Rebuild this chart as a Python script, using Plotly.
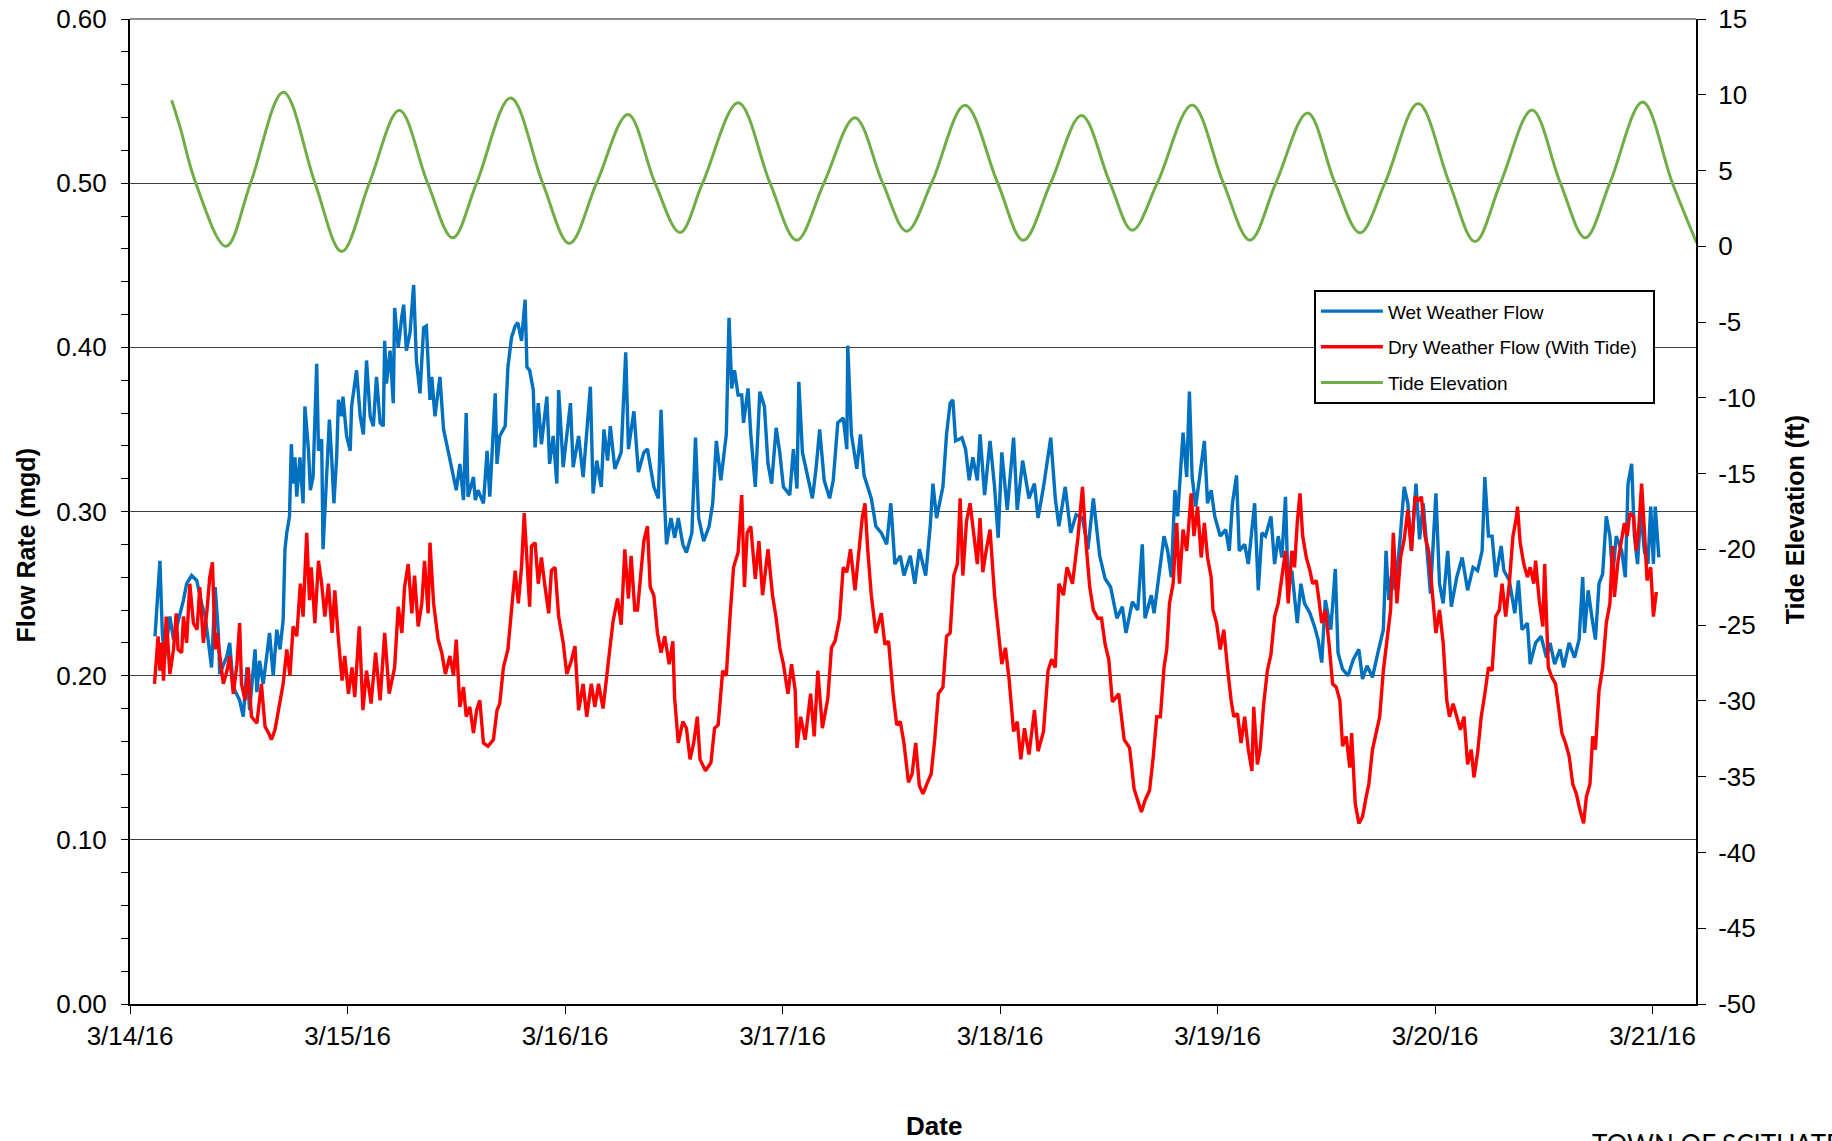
import pandas as pd
import plotly.graph_objects as go

START = pd.Timestamp("2016-03-14 00:00")

# (hours after 3/14/16 00:00, flow in mgd)
wet_weather_flow = [
    (2.76,0.224),(2.87,0.232),(3.3,0.270),(3.57,0.226),(3.8,0.21),(4.4,0.236),(4.8,0.222),(5.9,0.246),(6.25,0.256),
    (6.8,0.261),(7.36,0.258),(7.9,0.244),(8.3,0.236),(9.0,0.205),(9.4,0.254),(9.75,0.226),(9.9,0.201),(10.7,0.212),
    (11.0,0.22),(11.4,0.193),(12.1,0.185),(12.5,0.175),(12.9,0.205),(13.2,0.179),(13.8,0.216),(14.0,0.19),(14.3,0.209),
    (14.7,0.195),(15.4,0.226),(15.8,0.2),(16.2,0.228),(16.55,0.216),(16.9,0.234),(17.1,0.277),(17.3,0.287),(17.6,0.297),
    (17.8,0.341),(18.0,0.317),(18.2,0.333),(18.4,0.309),(18.75,0.333),(19.1,0.305),(19.3,0.364),(19.7,0.337),(19.9,0.313),
    (20.2,0.321),(20.6,0.39),(20.8,0.337),(21.15,0.344),(21.3,0.277),(21.7,0.317),(22.0,0.356),(22.25,0.333),(22.5,0.305),
    (22.8,0.333),(23.0,0.368),(23.35,0.358),(23.5,0.37),(23.9,0.346),(24.3,0.337),(24.45,0.364),(25.0,0.386),(25.4,0.358),
    (25.75,0.347),(26.1,0.392),(26.5,0.358),(26.85,0.352),(27.2,0.382),(27.6,0.354),(27.95,0.352),(28.1,0.404),(28.3,0.378),
    (28.7,0.398),(29.05,0.366),(29.2,0.424),(29.6,0.4),(30.0,0.419),(30.2,0.426),(30.5,0.398),(30.9,0.409),(31.3,0.438),
    (31.6,0.392),(32.0,0.372),(32.4,0.412),(32.7,0.413),(33.1,0.368),(33.3,0.382),(33.65,0.358),(34.2,0.382),(34.6,0.35),
    (35.1,0.337),(35.5,0.327),(36.0,0.313),(36.4,0.329),(36.8,0.307),(37.1,0.36),(37.3,0.309),(37.9,0.321),(38.1,0.307),
    (38.4,0.313),(39.0,0.305),(39.4,0.337),(39.7,0.309),(40.3,0.372),(40.5,0.329),(40.8,0.346),(41.4,0.352),(41.7,0.388),
    (42.1,0.406),(42.5,0.413),(42.8,0.415),(43.2,0.404),(43.6,0.429),(43.8,0.388),(44.1,0.386),(44.5,0.374),(44.7,0.339),
    (45.05,0.366),(45.4,0.341),(46.0,0.37),(46.3,0.329),(46.7,0.346),(47.1,0.317),(47.3,0.374),(47.8,0.327),(48.6,0.366),
    (48.9,0.327),(49.5,0.346),(50.0,0.321),(50.8,0.376),(51.1,0.311),(51.5,0.331),(52.0,0.315),(52.3,0.35),(52.7,0.331),
    (53.0,0.352),(53.5,0.326),(54.2,0.336),(54.7,0.397),(55.0,0.338),(55.6,0.361),(56.1,0.324),(56.7,0.336),(57.1,0.338),
    (57.8,0.315),(58.3,0.308),(58.6,0.362),(58.95,0.31),(59.2,0.28),(59.7,0.296),(60.1,0.284),(60.5,0.296),(61.0,0.28),
    (61.4,0.275),(62.0,0.287),(62.4,0.345),(62.75,0.296),(63.3,0.282),(63.9,0.291),(64.3,0.305),(64.7,0.343),(65.2,0.319),
    (65.8,0.347),(66.1,0.418),(66.4,0.375),(66.7,0.386),(67.1,0.371),(67.5,0.371),(67.7,0.354),(68.2,0.375),(68.5,0.347),
    (69.0,0.315),(69.5,0.373),(70.0,0.364),(70.4,0.329),(70.8,0.317),(71.3,0.351),(71.7,0.336),(72.1,0.315),(72.8,0.31),
    (73.2,0.338),(73.6,0.314),(73.8,0.379),(74.2,0.336),(74.9,0.319),(75.3,0.308),(75.7,0.326),(76.1,0.35),(76.6,0.319),
    (77.2,0.308),(77.6,0.319),(78.1,0.354),(78.7,0.357),(79.1,0.338),(79.2,0.401),(79.6,0.347),(80.2,0.326),(80.6,0.347),
    (81.0,0.322),(81.4,0.315),(81.8,0.308),(82.3,0.291),(82.9,0.287),(83.5,0.28),(83.95,0.305),(84.4,0.268),(85.0,0.273),
    (85.4,0.261),(86.1,0.273),(86.6,0.256),(87.1,0.277),(87.8,0.261),(88.3,0.291),(88.6,0.317),(89.0,0.296),(89.7,0.315),
    (90.1,0.347),(90.5,0.366),(90.8,0.368),(91.1,0.343),(91.8,0.345),(92.2,0.338),(92.6,0.319),(93.0,0.333),(93.5,0.319),
    (93.8,0.347),(94.3,0.31),(94.9,0.343),(95.4,0.315),(95.8,0.284),(96.2,0.336),(96.8,0.301),(97.5,0.345),(97.9,0.301),
    (98.5,0.331),(99.2,0.308),(99.8,0.317),(100.2,0.296),(100.8,0.315),(101.6,0.345),(102.1,0.308),(102.5,0.291),(103.2,0.315),
    (103.8,0.287),(104.4,0.298),(105.1,0.296),(105.7,0.277),(106.3,0.308),(107.0,0.273),(107.6,0.259),(108.2,0.254),
    (108.9,0.235),(109.5,0.242),(109.9,0.226),(110.6,0.245),(111.2,0.24),(111.7,0.28),(112.0,0.235),(112.7,0.249),
    (113.0,0.238),(113.5,0.26),(114.1,0.285),(114.5,0.276),(114.9,0.26),(115.3,0.313),(115.6,0.297),(116.2,0.348),
    (116.6,0.321),(116.9,0.373),(117.2,0.321),(117.6,0.303),(118.2,0.331),(118.55,0.343),(118.9,0.305),(119.3,0.313),
    (119.7,0.297),(120.3,0.285),(120.9,0.289),(121.3,0.276),(121.65,0.305),(122.1,0.322),(122.4,0.276),(123.0,0.28),
    (123.4,0.268),(124.1,0.305),(124.5,0.252),(124.9,0.287),(125.3,0.285),(125.9,0.297),(126.3,0.268),(126.7,0.285),
    (127.1,0.272),(127.5,0.309),(127.8,0.252),(128.2,0.264),(128.8,0.232),(129.2,0.256),(129.6,0.244),(130.2,0.238),
    (130.7,0.23),(131.1,0.222),(131.5,0.208),(131.9,0.246),(132.5,0.228),(133.0,0.265),(133.3,0.214),(133.8,0.204),
    (134.4,0.2),(135.0,0.21),(135.6,0.216),(136.0,0.198),(136.5,0.206),(137.1,0.199),(137.7,0.214),(138.3,0.228),
    (138.6,0.276),(138.9,0.246),(139.3,0.266),(139.6,0.252),(140.1,0.28),(140.6,0.315),(141.0,0.305),(141.4,0.276),
    (141.9,0.317),(142.3,0.283),(142.7,0.305),(143.1,0.276),(143.5,0.25),(144.1,0.311),(144.5,0.256),(144.9,0.244),
    (145.4,0.276),(145.8,0.242),(146.4,0.26),(147.0,0.272),(147.6,0.252),(148.2,0.266),(148.7,0.264),(149.2,0.276),
    (149.5,0.321),(149.9,0.285),(150.3,0.285),(150.7,0.26),(151.3,0.279),(151.6,0.264),(152.2,0.258),(152.8,0.238),
    (153.2,0.258),(153.6,0.228),(154.2,0.232),(154.5,0.207),(155.1,0.22),(155.7,0.224),(156.3,0.211),(156.7,0.22),
    (157.2,0.207),(157.8,0.216),(158.2,0.205),(158.8,0.22),(159.4,0.211),(159.9,0.222),(160.3,0.26),(160.5,0.226),
    (160.9,0.252),(161.3,0.236),(161.7,0.222),(162.1,0.256),(162.5,0.262),(162.9,0.297),(163.3,0.285),(163.6,0.26),
    (164.0,0.285),(164.6,0.276),(165.0,0.26),(165.3,0.317),(165.7,0.329),(166.0,0.285),(166.35,0.268),(166.7,0.301),
    (167.1,0.276),(167.5,0.268),(167.8,0.303),(168.1,0.268),(168.3,0.303),(168.7,0.272),
]

dry_weather_flow = [
    (2.7,0.195),(2.87,0.205),(3.1,0.224),(3.3,0.203),(3.5,0.22),(3.7,0.197),(4.0,0.236),(4.4,0.201),(4.8,0.216),
    (5.1,0.238),(5.3,0.216),(5.7,0.214),(5.9,0.236),(6.25,0.22),(6.6,0.256),(7.0,0.232),(7.4,0.228),(7.7,0.254),
    (8.1,0.22),(8.5,0.24),(8.8,0.26),(9.1,0.269),(9.4,0.216),(9.6,0.226),(9.9,0.212),(10.3,0.195),(10.7,0.203),
    (11.0,0.212),(11.4,0.189),(11.8,0.207),(12.1,0.232),(12.3,0.195),(12.7,0.185),(13.05,0.205),(13.4,0.175),(14.0,0.171),
    (14.5,0.195),(14.9,0.169),(15.3,0.165),(15.6,0.161),(16.0,0.167),(16.6,0.185),(16.9,0.195),(17.3,0.216),(17.65,0.2),
    (18.0,0.23),(18.4,0.224),(18.8,0.256),(19.1,0.236),(19.5,0.287),(19.8,0.246),(20.0,0.266),(20.4,0.232),(20.8,0.27),
    (21.15,0.256),(21.5,0.236),(21.9,0.256),(22.3,0.226),(22.6,0.252),(23.0,0.222),(23.4,0.197),(23.7,0.212),(24.1,0.189),
    (24.5,0.205),(24.8,0.187),(25.3,0.23),(25.7,0.179),(26.1,0.203),(26.6,0.183),(27.1,0.214),(27.6,0.185),(28.1,0.226),
    (28.6,0.189),(29.2,0.205),(29.6,0.242),(30.0,0.226),(30.3,0.254),(30.7,0.268),(31.1,0.238),(31.4,0.261),(31.8,0.23),
    (32.2,0.244),(32.5,0.27),(32.9,0.238),(33.1,0.281),(33.5,0.244),(34.0,0.222),(34.4,0.214),(34.8,0.201),(35.3,0.212),
    (35.7,0.2),(36.0,0.222),(36.4,0.181),(36.8,0.193),(37.1,0.175),(37.5,0.181),(37.9,0.165),(38.25,0.179),(38.6,0.185),
    (39.0,0.159),(39.5,0.157),(40.1,0.161),(40.5,0.179),(40.8,0.183),(41.2,0.205),(41.7,0.216),(42.1,0.24),(42.5,0.264),
    (42.85,0.244),(43.2,0.266),(43.5,0.299),(43.8,0.266),(44.1,0.242),(44.3,0.279),(44.7,0.281),(45.05,0.256),(45.4,0.272),
    (45.8,0.254),(46.2,0.238),(46.5,0.264),(46.9,0.266),(47.3,0.236),(47.8,0.22),(48.2,0.201),(48.7,0.209),(49.1,0.218),
    (49.5,0.179),(50.0,0.195),(50.4,0.175),(50.9,0.195),(51.3,0.181),(51.7,0.195),(52.2,0.18),(52.9,0.214),(53.3,0.233),
    (53.8,0.247),(54.2,0.231),(54.6,0.277),(55.0,0.247),(55.3,0.273),(55.7,0.24),(56.0,0.24),(56.3,0.256),(56.7,0.282),
    (57.1,0.291),(57.4,0.254),(57.8,0.249),(58.2,0.226),(58.6,0.214),(59.0,0.224),(59.5,0.207),(59.9,0.221),(60.1,0.186),
    (60.5,0.159),(61.0,0.172),(61.4,0.168),(61.8,0.149),(62.2,0.159),(62.6,0.175),(62.9,0.149),(63.5,0.142),(64.1,0.147),
    (64.5,0.168),(64.9,0.17),(65.4,0.203),(65.8,0.2),(66.2,0.235),(66.6,0.266),(67.1,0.275),(67.5,0.31),(67.8,0.254),
    (68.1,0.287),(68.5,0.291),(69.0,0.259),(69.4,0.282),(69.8,0.249),(70.4,0.277),(70.9,0.249),(71.3,0.235),(71.7,0.217),
    (72.1,0.207),(72.6,0.189),(73.0,0.207),(73.4,0.191),(73.6,0.156),(74.0,0.175),(74.5,0.161),(75.1,0.189),(75.5,0.163),
    (75.9,0.203),(76.4,0.168),(77.0,0.186),(77.4,0.217),(77.8,0.221),(78.3,0.235),(78.7,0.266),(79.1,0.263),(79.5,0.277),
    (80.0,0.252),(80.4,0.273),(80.8,0.296),(81.1,0.305),(81.4,0.277),(81.8,0.249),(82.3,0.226),(82.9,0.238),(83.3,0.219),
    (83.7,0.221),(84.2,0.189),(84.6,0.17),(85.0,0.172),(85.4,0.159),(85.9,0.135),(86.3,0.14),(86.7,0.159),(87.1,0.133),
    (87.5,0.128),(88.0,0.135),(88.4,0.14),(88.8,0.161),(89.2,0.189),(89.7,0.193),(90.1,0.224),(90.5,0.226),(90.9,0.261),
    (91.3,0.268),(91.6,0.308),(91.9,0.261),(92.3,0.294),(92.7,0.305),(93.0,0.291),(93.5,0.268),(93.8,0.296),(94.1,0.263),
    (94.5,0.277),(94.9,0.289),(95.4,0.249),(95.8,0.226),(96.2,0.207),(96.6,0.217),(97.0,0.198),(97.5,0.166),(97.9,0.172),
    (98.3,0.149),(98.7,0.168),(99.2,0.152),(99.8,0.179),(100.2,0.154),(100.8,0.166),(101.3,0.203),(101.7,0.21),(102.1,0.205),
    (102.5,0.256),(103.0,0.249),(103.4,0.266),(104.0,0.256),(104.6,0.284),(105.1,0.315),(105.5,0.28),(105.9,0.254),
    (106.3,0.24),(106.8,0.235),(107.2,0.235),(107.6,0.219),(108.0,0.21),(108.4,0.184),(109.1,0.189),(109.7,0.161),
    (110.3,0.156),(110.8,0.131),(111.2,0.124),(111.6,0.117),(112.0,0.124),(112.5,0.13),(112.9,0.15),(113.3,0.175),
    (113.7,0.175),(114.1,0.205),(114.4,0.216),(114.7,0.244),(115.1,0.256),(115.5,0.293),(115.8,0.256),(116.2,0.289),
    (116.6,0.276),(117.1,0.311),(117.4,0.285),(117.8,0.303),(118.2,0.272),(118.55,0.293),(118.9,0.272),(119.3,0.26),
    (119.5,0.24),(119.9,0.232),(120.3,0.216),(120.7,0.228),(121.1,0.205),(121.5,0.185),(121.8,0.175),(122.2,0.177),
    (122.6,0.159),(123.0,0.175),(123.4,0.155),(123.8,0.142),(124.0,0.181),(124.4,0.146),(124.7,0.155),(125.1,0.183),
    (125.5,0.203),(125.9,0.213),(126.3,0.236),(126.7,0.244),(127.1,0.26),(127.5,0.276),(127.8,0.244),(128.2,0.276),
    (128.5,0.266),(128.8,0.293),(129.1,0.311),(129.4,0.285),(129.8,0.272),(130.2,0.264),(130.5,0.256),(130.9,0.258),
    (131.2,0.246),(131.5,0.232),(131.9,0.24),(132.3,0.22),(132.7,0.195),(133.1,0.193),(133.5,0.185),(133.8,0.157),
    (134.2,0.163),(134.6,0.144),(134.8,0.165),(135.2,0.122),(135.6,0.11),(136.0,0.114),(136.4,0.126),(136.7,0.134),
    (137.1,0.155),(137.5,0.165),(137.9,0.175),(138.3,0.203),(138.7,0.22),(139.1,0.24),(139.4,0.287),(139.8,0.244),
    (140.2,0.272),(140.6,0.283),(141.0,0.301),(141.4,0.276),(141.8,0.309),(142.2,0.307),(142.5,0.309),(142.9,0.285),
    (143.3,0.276),(143.7,0.248),(144.1,0.226),(144.5,0.24),(144.9,0.22),(145.3,0.185),(145.6,0.175),(146.0,0.183),
    (146.4,0.175),(146.8,0.167),(147.2,0.175),(147.6,0.146),(148.0,0.155),(148.3,0.138),(148.7,0.153),(149.1,0.175),
    (149.5,0.189),(149.9,0.205),(150.3,0.203),(150.7,0.236),(151.1,0.24),(151.4,0.256),(151.8,0.236),(152.2,0.256),
    (152.6,0.285),(153.0,0.297),(153.1,0.303),(153.4,0.281),(153.8,0.268),(154.2,0.26),(154.5,0.266),(154.9,0.256),
    (155.1,0.27),(155.5,0.246),(155.9,0.23),(156.1,0.268),(156.5,0.205),(156.9,0.199),(157.3,0.195),(157.6,0.181),
    (158.0,0.165),(158.4,0.159),(158.8,0.151),(159.2,0.134),(159.6,0.128),(160.0,0.118),(160.4,0.11),(160.7,0.126),
    (161.1,0.134),(161.4,0.163),(161.7,0.155),(162.1,0.191),(162.5,0.205),(162.9,0.232),(163.3,0.244),(163.6,0.279),
    (163.8,0.248),(164.2,0.27),(164.6,0.285),(164.9,0.293),(165.2,0.285),(165.5,0.299),(165.9,0.297),(166.2,0.276),
    (166.5,0.291),(166.8,0.317),(167.1,0.289),(167.4,0.258),(167.8,0.266),(168.1,0.236),(168.4,0.25),(168.6,0.25),
]

# (hours after 3/14/16 00:00, tide elevation in ft)
tide_elevation = [
    (4.6,9.64),(5.52,7.88),(7.25,4.18),(10.59,0.0),(13.31,4.18),(16.92,10.17),(20.41,4.18),(23.36,-0.35),(26.41,4.18),
    (29.72,8.98),(32.84,4.18),(35.6,0.56),(38.25,4.18),(42.0,9.79),(45.53,4.18),(48.48,0.18),(51.49,4.18),(54.95,8.7),
    (57.93,4.18),(60.69,0.91),(63.19,4.18),(67.12,9.48),(70.62,4.18),(73.56,0.4),(76.58,4.18),(80.0,8.49),(83.05,4.18),
    (85.7,1.0),(88.46,4.18),(92.13,9.31),(95.74,4.18),(98.57,0.4),(101.59,4.18),(105.0,8.63),(108.13,4.18),(110.6,1.06),
    (113.36,4.18),(117.2,9.33),(120.64,4.18),(123.58,0.4),(126.45,4.18),(129.94,8.8),(132.96,4.18),(135.72,0.89),
    (138.48,4.18),(142.15,9.42),(145.58,4.18),(148.41,0.31),(151.24,4.18),(154.7,9.0),(157.83,4.18),(160.58,0.56),
    (163.3,4.18),(166.91,9.53),(170.19,4.18),(172.87,0.23),
]

flow_ticks = [0.0, 0.1, 0.2, 0.3, 0.4, 0.5, 0.6]
tide_ticks = [15, 10, 5, 0, -5, -10, -15, -20, -25, -30, -35, -40, -45, -50]
tide_tick_labels = ["15", "10", "5", "0", "-5", "-10", "-15", "-20", "-25", "-30", "-35", "-40", "-45", "-50"]


def to_xy(pairs):
    hrs = [p[0] for p in pairs]
    vals = [p[1] for p in pairs]
    return START + pd.to_timedelta(hrs, unit="h"), vals


FONT = "Liberation Sans, Arial, sans-serif"

fig = go.Figure()
wx, wy = to_xy(wet_weather_flow)
dx, dy = to_xy(dry_weather_flow)
tx, ty = to_xy(tide_elevation)

fig.add_trace(go.Scatter(x=wx, y=wy, mode="lines", name="Wet Weather Flow",
                         line=dict(color="#0070C0", width=3.4), legendgroup="a"))
fig.add_trace(go.Scatter(x=dx, y=dy, mode="lines", name="Dry Weather Flow (With Tide)\u00a0\u00a0",
                         line=dict(color="#FF0000", width=3.4), legendgroup="b"))
fig.add_trace(go.Scatter(x=tx, y=ty, mode="lines", name="Tide Elevation", yaxis="y2",
                         line=dict(color="#70AD47", width=3, shape="spline", smoothing=1.0), legendgroup="c"))

x_end = START + pd.Timedelta(days=7.2)

fig.update_layout(
    width=1832, height=1141,
    margin=dict(l=130, r=136, t=19, b=137, pad=0, autoexpand=False),
    paper_bgcolor="white", plot_bgcolor="white",
    font=dict(family=FONT, color="black", size=26),
    showlegend=True,
    legend=dict(x=0.756, y=0.7246, xanchor="left", yanchor="top",
                bgcolor="white", bordercolor="black", borderwidth=2,
                font=dict(family=FONT, size=19, color="black"),
                traceorder="grouped", tracegroupgap=8, itemwidth=62),
    xaxis=dict(type="date", range=[START, x_end], tick0=START, dtick=86400000, automargin=False,
               tickformat="%-m/%-d/%y", ticks="outside", ticklen=8, tickwidth=1, tickcolor="black",
               showline=True, linecolor="black", linewidth=2, showgrid=False, zeroline=False,
               ticklabelstandoff=0, tickfont=dict(size=26)),
    yaxis=dict(range=[0, 0.6], tickvals=flow_ticks, tickformat=".2f", automargin=False,
               ticks="outside", ticklen=7, tickwidth=1, tickcolor="black",
               minor=dict(dtick=0.02, ticks="outside", ticklen=7, tickcolor="black", showgrid=False),
               showline=True, linecolor="black", linewidth=2,
               showgrid=True, gridcolor="#404040", gridwidth=1, zeroline=False,
               ticklabelstandoff=9, tickfont=dict(size=26)),
    yaxis2=dict(range=[-50, 15], overlaying="y", side="right", automargin=False,
                tickvals=tide_ticks, ticktext=tide_tick_labels,
                ticks="outside", ticklen=8, tickwidth=1, tickcolor="black",
                showline=True, linecolor="black", linewidth=2,
                showgrid=False, zeroline=False, ticklabelstandoff=7, tickfont=dict(size=26)),
    shapes=[dict(type="line", xref="paper", yref="paper", x0=0, x1=1, y0=1, y1=1,
                 line=dict(color="#8c8c8c", width=2))],
    annotations=[
        dict(text="<b>Date</b>", xref="paper", yref="paper", x=0.5134, y=-0.1242,
             xanchor="center", yanchor="middle", showarrow=False, font=dict(size=26, family=FONT)),
        dict(text="<b>Flow Rate (mgd)</b>", xref="paper", yref="paper", x=-0.0666, y=0.4652,
             xanchor="center", yanchor="middle", textangle=-90, showarrow=False, font=dict(size=25, family=FONT)),
        dict(text="<b>Tide Elevation (ft)</b>", xref="paper", yref="paper", x=1.0632, y=0.4921,
             xanchor="center", yanchor="middle", textangle=-90, showarrow=False, font=dict(size=25, family=FONT)),
        dict(text="TOWN OF SCITUATE", xref="paper", yref="paper", x=0.9323, y=-0.1242,
             xanchor="left", yanchor="top", showarrow=False, font=dict(size=26, family="Lato, sans-serif")),
    ],
)

fig.write_html("out.html", config={"displayModeBar": False},
               post_script="document.body.style.margin='0px';document.body.style.overflow='hidden';")
